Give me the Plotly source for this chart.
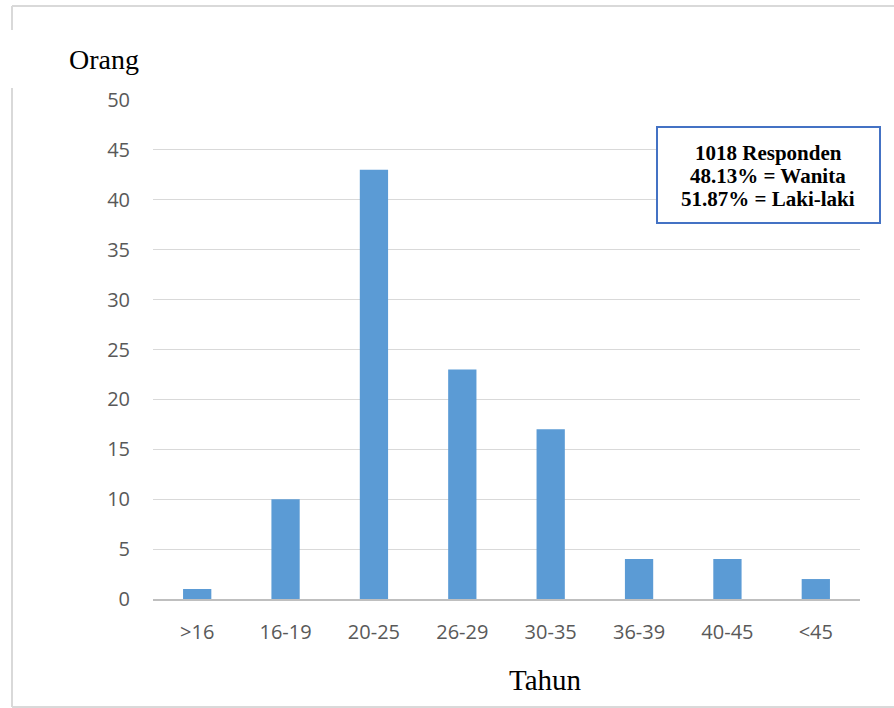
import plotly.graph_objects as go

categories = [">16", "16-19", "20-25", "26-29", "30-35", "36-39", "40-45", "<45"]
values = [1, 10, 43, 23, 17, 4, 4, 2]
y_ticks = [0, 5, 10, 15, 20, 25, 30, 35, 40, 45, 50]
box_lines = ["1018 Responden", "48.13% = Wanita", "51.87% = Laki-laki"]

W, H = 894, 708
L, R, T, B = 153, 860, 100, 599

def px(x):
    return (x - L) / (R - L)

def py(y):
    return (B - y) / (B - T)

fig = go.Figure(go.Bar(x=categories, y=values, marker=dict(color="#5B9BD5", line=dict(width=0)),
                       width=0.32))

border = "#D9D9D9"
shapes = [
    dict(type="line", xref="paper", yref="paper", x0=px(12), x1=px(894), y0=py(6), y1=py(6), line=dict(color=border, width=2)),
    dict(type="line", xref="paper", yref="paper", x0=px(12), x1=px(12), y0=py(6), y1=py(30), line=dict(color=border, width=2)),
    dict(type="line", xref="paper", yref="paper", x0=px(12), x1=px(12), y0=py(88), y1=py(707), line=dict(color=border, width=2)),
    dict(type="line", xref="paper", yref="paper", x0=px(12), x1=px(894), y0=py(707), y1=py(707), line=dict(color=border, width=2)),
    dict(type="rect", xref="paper", yref="paper", x0=px(657), x1=px(880), y0=py(127), y1=py(223),
         line=dict(color="#4472C4", width=2), fillcolor="white", layer="above"),
]

annotations = [
    dict(text="Orang", xref="paper", yref="paper", x=px(104), y=py(60), showarrow=False,
         xanchor="center", yanchor="middle",
         font=dict(family="Liberation Serif", size=28, color="black")),
    dict(text="Tahun", xref="paper", yref="paper", x=px(545), y=py(680), showarrow=False,
         xanchor="center", yanchor="middle",
         font=dict(family="Liberation Serif", size=29, color="black")),
]
for i, t in enumerate(box_lines):
    annotations.append(dict(text="<b>" + t + "</b>", xref="paper", yref="paper",
                            x=px(768), y=py(153 + 23 * i), showarrow=False,
                            xanchor="center", yanchor="middle",
                            font=dict(family="Liberation Serif", size=21, color="black")))

fig.update_layout(
    width=W, height=H,
    margin=dict(l=L, r=W - R, t=T, b=H - B, pad=0),
    paper_bgcolor="white", plot_bgcolor="white",
    showlegend=False,
    shapes=shapes,
    annotations=annotations,
    font=dict(family="Open Sans", color="#595959", size=20),
    xaxis=dict(showgrid=False, showline=True, linecolor="#BFBFBF", linewidth=1.5,
               ticks="", ticklabelstandoff=14, tickfont=dict(size=20, color="#595959", family="Open Sans")),
    yaxis=dict(range=[0, 50], tickvals=y_ticks, showgrid=True, gridcolor="#D9D9D9", gridwidth=1,
               zeroline=False, showline=False, ticks="", ticklabelstandoff=22,
               tickfont=dict(size=20, color="#595959", family="Open Sans")),
)

fig.write_html("out.html", config={"displayModeBar": False},
               post_script="document.body.style.margin='0';")
